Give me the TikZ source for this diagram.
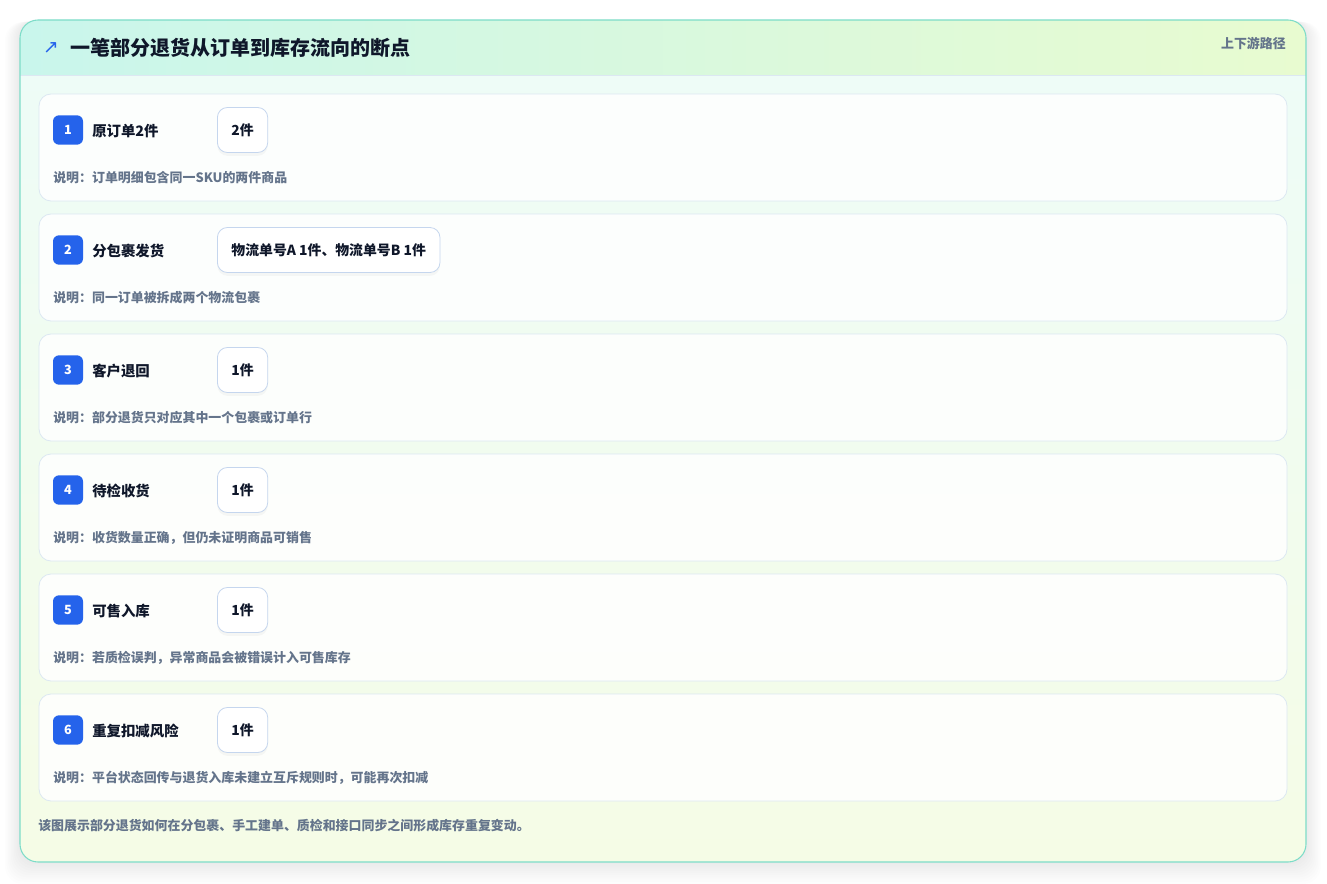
\documentclass[tikz,border=0pt]{standalone}
\usepackage{fontspec}
\setmainfont{Noto Sans CJK SC}
\newfontfamily\symfont{DejaVu Sans}
\usetikzlibrary{shadows}
\definecolor{cardline}{HTML}{7DDCC8}
\definecolor{rowline}{HTML}{DCE8F2}
\definecolor{valline}{HTML}{C5D6EE}
\definecolor{badgeblue}{HTML}{2563EB}
\definecolor{ink}{HTML}{0F172A}
\definecolor{mute}{HTML}{64748B}
\definecolor{mintA}{HTML}{EDFCF8}
\definecolor{mintB}{HTML}{F5FCE6}
\definecolor{headA}{HTML}{C9F6EC}
\definecolor{headB}{HTML}{E8FBD0}

\begin{document}
\begin{tikzpicture}[x=0.75pt,y=-0.75pt,
    rowbox/.style={draw=rowline,fill=white,fill opacity=0.85,rounded corners=9pt,line width=0.6pt},
    badge/.style={fill=badgeblue,rounded corners=4.5pt,minimum width=22.5pt,minimum height=22pt,inner sep=0pt,
        text=white,font=\fontsize{9.5}{11}\selectfont\bfseries},
    steplabel/.style={anchor=west,inner sep=0pt,text=ink,font=\fontsize{10.8}{13}\selectfont\bfseries},
    valbox/.style={anchor=west,draw=valline,fill=white,rounded corners=7.5pt,line width=0.6pt,
        minimum width=37.5pt,minimum height=33.75pt,inner xsep=10.5pt,text=ink,
        font=\fontsize{10.4}{12}\selectfont\bfseries,
        drop shadow={opacity=0.06,shadow xshift=0pt,shadow yshift=-2.5pt}},
    note/.style={anchor=west,inner sep=0pt,text=mute,font=\fontsize{9.7}{11}\selectfont\bfseries}]
    \useasboundingbox (0,0) rectangle (1327,884);
    % shadow
    \foreach \i in {1,...,10}
        \fill[black,opacity=0.008,rounded corners=13.5pt] (20-\i*1.5,20+\i*0.2) rectangle (1306+\i*1.5,862+\i*2.2);
    % card
    \shade[rounded corners=13.5pt,top color=mintA,bottom color=mintB]
        (20,20) rectangle (1306,862);
    \begin{scope}
        \clip[rounded corners=13.5pt] (20,20) rectangle (1306,862);
        \shade[left color=headA,right color=headB] (20,20) rectangle (1306,75);
        \draw[rowline,line width=0.6pt] (20,75) -- (1306,75);
    \end{scope}
    \draw[cardline,line width=0.8pt,rounded corners=13.5pt] (20,20) rectangle (1306,862);
    % header
    \node[text=badgeblue,font=\symfont\fontsize{14}{14}\selectfont] (icon) at (51,48) {↗};
    \node[anchor=west,inner sep=0pt,text=ink,font=\fontsize{15}{18}\selectfont\bfseries] (title) at (70,48)
        {一笔部分退货从订单到库存流向的断点};
    \node[anchor=east,inner sep=0pt,text=mute,font=\fontsize{9.7}{11}\selectfont\bfseries] (path) at (1286,44) {上下游路径};
    % step 1
    \draw[rowbox] (39,94) rectangle (1287,201);
    \node[badge] (badge1) at (68,130) {1};
    \node[steplabel] (label1) at (92,131) {原订单2件};
    \node[valbox] (val1) at (217,130) {2件};
    \node[note] (note1) at (53,178) {说明：订单明细包含同一SKU的两件商品};
    % step 2
    \draw[rowbox] (39,214) rectangle (1287,321);
    \node[badge] (badge2) at (68,250) {2};
    \node[steplabel] (label2) at (92,251) {分包裹发货};
    \node[valbox] (val2) at (217,250) {物流单号A 1件、物流单号B 1件};
    \node[note] (note2) at (53,298) {说明：同一订单被拆成两个物流包裹};
    % step 3
    \draw[rowbox] (39,334) rectangle (1287,441);
    \node[badge] (badge3) at (68,370) {3};
    \node[steplabel] (label3) at (92,371) {客户退回};
    \node[valbox] (val3) at (217,370) {1件};
    \node[note] (note3) at (53,418) {说明：部分退货只对应其中一个包裹或订单行};
    % step 4
    \draw[rowbox] (39,454) rectangle (1287,561);
    \node[badge] (badge4) at (68,490) {4};
    \node[steplabel] (label4) at (92,491) {待检收货};
    \node[valbox] (val4) at (217,490) {1件};
    \node[note] (note4) at (53,538) {说明：收货数量正确，但仍未证明商品可销售};
    % step 5
    \draw[rowbox] (39,574) rectangle (1287,681);
    \node[badge] (badge5) at (68,610) {5};
    \node[steplabel] (label5) at (92,611) {可售入库};
    \node[valbox] (val5) at (217,610) {1件};
    \node[note] (note5) at (53,658) {说明：若质检误判，异常商品会被错误计入可售库存};
    % step 6
    \draw[rowbox] (39,694) rectangle (1287,801);
    \node[badge] (badge6) at (68,730) {6};
    \node[steplabel] (label6) at (92,731) {重复扣减风险};
    \node[valbox] (val6) at (217,730) {1件};
    \node[note] (note6) at (53,778) {说明：平台状态回传与退货入库未建立互斥规则时，可能再次扣减};
    % footer
    \node[note] (footer) at (38,826) {该图展示部分退货如何在分包裹、手工建单、质检和接口同步之间形成库存重复变动。};
\end{tikzpicture}
\end{document}
